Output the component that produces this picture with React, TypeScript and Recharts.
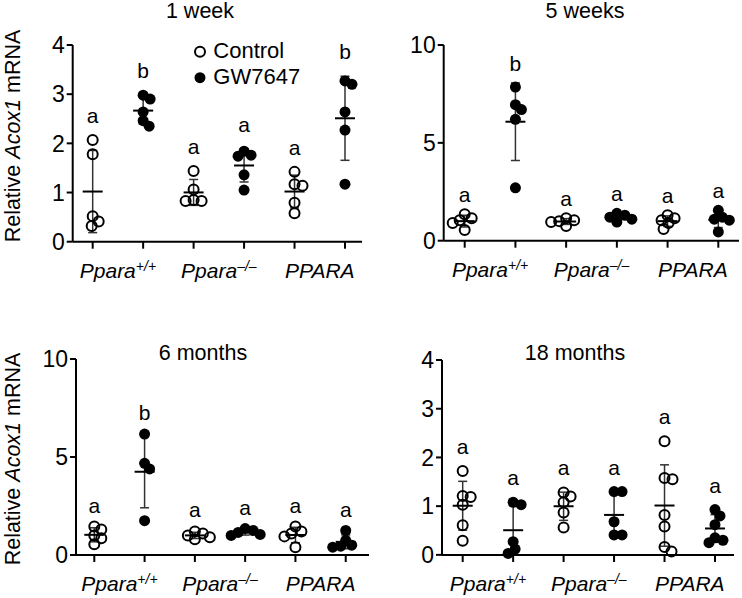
import React from "react";
import { ScatterChart, Scatter, XAxis, YAxis, ErrorBar, Legend } from "recharts";

const FONT = "'Liberation Sans', Arial, Helvetica, sans-serif";

// ---------- data ----------
const genotypeNames = ["Ppara", "Ppara", "PPARA"];
const genotypeSups = ["+/+", "\u2013/\u2013", ""];
const treatments = ["Control", "GW7647"];
const panelTitles = ["1 week", "5 weeks", "6 months", "18 months"];

// group order: Ppara+/+ Control, Ppara+/+ GW7647, Ppara-/- Control, Ppara-/- GW7647, PPARA Control, PPARA GW7647
const week1Values = [
  [2.07, 1.78, 0.52, 0.41, 0.32],
  [2.98, 2.9, 2.64, 2.46, 2.35],
  [1.44, 1.06, 0.85, 0.83, 0.83],
  [1.84, 1.76, 1.74, 1.36, 1.05],
  [1.42, 1.17, 1.14, 0.79, 0.58],
  [3.27, 3.2, 2.64, 2.27, 1.17],
];
const week1Letters = ["a", "b", "a", "a", "a", "b"];
const week1Ticks = [0, 1, 2, 3, 4];

const week5Values = [
  [1.35, 1.15, 1.05, 0.9, 0.55],
  [7.85, 6.95, 6.7, 6.2, 2.7],
  [1.15, 1.05, 1.0, 0.95, 0.75],
  [1.4, 1.3, 1.2, 1.1, 0.95],
  [1.3, 1.15, 1.05, 0.9, 0.6],
  [1.55, 1.2, 1.1, 1.05, 0.45],
];
const week5Letters = ["a", "b", "a", "a", "a", "a"];
const week5Ticks = [0, 5, 10];

const month6Values = [
  [1.45, 1.3, 1.0, 0.85, 0.55],
  [6.17, 4.68, 4.39, 1.75],
  [1.2, 1.1, 1.0, 0.9, 0.8],
  [1.35, 1.25, 1.15, 1.05, 1.0],
  [1.45, 1.2, 1.1, 0.95, 0.4],
  [1.25, 0.75, 0.5, 0.45, 0.4],
];
const month6Letters = ["a", "b", "a", "a", "a", "a"];
const month6Ticks = [0, 5, 10];

const month18Values = [
  [1.72, 1.21, 1.19, 1.03, 0.61, 0.29],
  [1.08, 1.03, 0.27, 0.12, 0.03],
  [1.28, 1.2, 1.08, 0.87, 0.56],
  [1.3, 1.3, 0.68, 0.41, 0.41],
  [2.33, 1.58, 1.55, 0.82, 0.58, 0.16, 0.07],
  [0.93, 0.8, 0.62, 0.35, 0.3, 0.25],
];
const month18Letters = ["a", "a", "a", "a", "a", "a"];
const month18Ticks = [0, 1, 2, 3, 4];

// x ticks: integer = group position (tick mark), .5 = genotype label
const xTickPositions = [1, 1.5, 2, 3, 3.5, 4, 5, 5.5, 6];

// ---------- layout ----------
type Layout = {
  left: number; top: number; width: number; height: number;
  plotLeft: number; plotRight: number; plotTop: number; plotBottom: number;
  xDomain: [number, number]; titleX: number; titleY: number;
  yLabelY?: number; legend?: boolean; letterGap: number;
};

const layouts: Layout[] = [
  { left: 0, top: 0, width: 371, height: 299, plotLeft: 72.7, plotRight: 362, plotTop: 45, plotBottom: 241.7, xDomain: [0.604, 6.337], titleX: 200, titleY: 18.3, yLabelY: 136, legend: true, letterGap: 17 },
  { left: 371, top: 0, width: 371, height: 299, plotLeft: 443.7, plotRight: 739, plotTop: 45, plotBottom: 240.7, xDomain: [0.586, 6.408], titleX: 585, titleY: 18.3, letterGap: 12 },
  { left: 0, top: 299, width: 371, height: 299, plotLeft: 76, plotRight: 369, plotTop: 359, plotBottom: 555, xDomain: [0.636, 6.463], titleX: 203, titleY: 359.7, yLabelY: 459, letterGap: 14 },
  { left: 371, top: 299, width: 371, height: 299, plotLeft: 442, plotRight: 734, plotTop: 360, plotBottom: 555, xDomain: [0.59, 6.377], titleX: 575, titleY: 359.7, letterGap: 17 },
];

const X_AXIS_H = 38;
const Y_AXIS_W = 50;

// simple beeswarm: smallest horizontal shift (px) that avoids heavy overlap
function beeswarm(values: number[], pxPerX: number, pxPerY: number, D: number): number[] {
  const order = values.map((v, i) => ({ v, i })).sort((a, b) => b.v - a.v);
  const placed: { o: number; y: number }[] = [];
  const offsets = new Array(values.length).fill(0);
  for (const { v, i } of order) {
    const y = v * pxPerY;
    let chosen = 0;
    for (let k = 0; k < 80; k++) {
      const o = k === 0 ? 0 : k % 2 === 1 ? Math.ceil(k / 2) : -Math.ceil(k / 2);
      if (placed.every((p) => (p.o - o) ** 2 + (p.y - y) ** 2 >= D * D)) {
        chosen = o;
        break;
      }
    }
    placed.push({ o: chosen, y });
    offsets[i] = chosen / pxPerX;
  }
  return offsets;
}

const OpenDot = (p: any) => (
  <circle cx={p.cx} cy={p.cy} r={5} fill="none" stroke="#000" strokeWidth={2} />
);
const FilledDot = (p: any) => <circle cx={p.cx} cy={p.cy} r={5.5} fill="#000" />;
const MeanLine = (p: any) => (
  <line x1={p.cx - 10} x2={p.cx + 10} y1={p.cy} y2={p.cy} stroke="#000" strokeWidth={2} />
);

function Panel({ title, groups, letters, yTicks, L }: { title: string; groups: number[][]; letters: string[]; yTicks: number[]; L: Layout }) {
  const yMax = yTicks[yTicks.length - 1];
  const plotW = L.plotRight - L.plotLeft;
  const plotH = L.plotBottom - L.plotTop;
  const pxPerX = plotW / (L.xDomain[1] - L.xDomain[0]);
  const pxPerY = plotH / yMax;

  const ctrl: any[] = [];
  const gw: any[] = [];
  const summary: any[] = [];
  const letterPts: any[] = [];
  groups.forEach((vals, gi) => {
    const offs = beeswarm(vals, pxPerX, pxPerY, 7.5);
    const pts = vals.map((v, k) => ({ x: gi + 1 + offs[k], y: v }));
    (gi % 2 === 0 ? ctrl : gw).push(...pts);
    const mean = vals.reduce((a, b) => a + b, 0) / vals.length;
    const sd = Math.sqrt(vals.reduce((a, b) => a + (b - mean) ** 2, 0) / (vals.length - 1));
    summary.push({ x: gi + 1, y: mean, sd });
    letterPts.push({ x: gi + 1, y: Math.max(Math.max(...vals), mean + sd), letter: letters[gi] });
  });

  const margin = {
    top: L.plotTop - L.top,
    right: L.left + L.width - L.plotRight,
    left: L.plotLeft - L.left - Y_AXIS_W,
    bottom: L.top + L.height - L.plotBottom - X_AXIS_H,
  };
  const plotBottomRel = L.plotBottom - L.top;

  const LetterMark = (p: any) => (
    <text x={p.cx} y={p.cy - L.letterGap} textAnchor="middle" fontSize={21} fill="#000" fontFamily={FONT}>
      {p.payload.letter}
    </text>
  );

  const XTick = (p: any) => {
    const v = p.payload.value;
    if (Number.isInteger(v)) {
      return <line x1={p.x} x2={p.x} y1={plotBottomRel} y2={plotBottomRel + 7} stroke="#000" strokeWidth={2} />;
    }
    const gi = Math.round((v - 1.5) / 2);
    return (
      <text x={p.x} y={plotBottomRel + 36} textAnchor="middle" fontSize={21} fontStyle="italic" fill="#000" stroke="none" fontFamily={FONT}>
        {genotypeNames[gi]}
        {genotypeSups[gi] ? (
          <tspan fontSize={14} dy={-7}>{genotypeSups[gi]}</tspan>
        ) : null}
      </text>
    );
  };

  const yLabel = L.yLabelY !== undefined
    ? () => {
        const x = 20 - L.left;
        const y = (L.yLabelY as number) - L.top;
        return (
          <text x={x} y={y} transform={`rotate(-90, ${x}, ${y})`} textAnchor="middle" fontSize={21.5} fill="#000" stroke="none" fontFamily={FONT}>
            {"Relative "}
            <tspan fontStyle="italic">Acox1</tspan>
            {" mRNA"}
          </text>
        );
      }
    : undefined;

  const legendContent = () => (
    <svg width={130} height={60} style={{ display: "block" }}>
      <circle cx={10} cy={13.7} r={5} fill="none" stroke="#000" strokeWidth={2} />
      <text x={23.3} y={19.8} fontSize={22} fill="#000" fontFamily={FONT}>{treatments[0]}</text>
      <circle cx={10} cy={39.7} r={5.5} fill="#000" />
      <text x={23.3} y={46} fontSize={22} fill="#000" fontFamily={FONT}>{treatments[1]}</text>
    </svg>
  );

  return (
    <div style={{ position: "absolute", left: L.left, top: L.top }}>
      <ScatterChart width={L.width} height={L.height} margin={margin} style={{ fontFamily: FONT }}>
        <XAxis
          type="number"
          dataKey="x"
          domain={L.xDomain}
          ticks={xTickPositions}
          interval={0}
          height={X_AXIS_H}
          stroke="#000"
          strokeWidth={2}
          axisLine={true}
          tickLine={false}
          tick={XTick}
        />
        <YAxis
          type="number"
          dataKey="y"
          domain={[0, yMax]}
          ticks={yTicks}
          interval={0}
          width={Y_AXIS_W}
          stroke="#000"
          strokeWidth={2}
          tickSize={6}
          tickMargin={2}
          tick={{ fill: "#000", fontSize: 23, fontFamily: FONT, strokeWidth: 0 }}
          label={yLabel}
        />
        <Scatter name={treatments[0]} data={ctrl} shape={OpenDot} isAnimationActive={false} />
        <Scatter name={treatments[1]} data={gw} shape={FilledDot} isAnimationActive={false} />
        <Scatter name="mean" data={summary} shape={MeanLine} legendType="none" isAnimationActive={false}>
          <ErrorBar dataKey="sd" direction="y" width={4.5} stroke="#333" strokeWidth={1.5} isAnimationActive={false} />
        </Scatter>
        <Scatter name="letters" data={letterPts} shape={LetterMark} legendType="none" isAnimationActive={false} />
        {L.legend ? (
          <Legend
            layout="vertical"
            align="center"
            verticalAlign="middle"
            content={legendContent}
            wrapperStyle={{ left: 190 - L.left, top: 38 - L.top, width: 130, height: 60 }}
          />
        ) : null}
        <text x={L.titleX - L.left} y={L.titleY - L.top} textAnchor="middle" fontSize={21.5} fill="#000" fontFamily={FONT}>
          {title}
        </text>
      </ScatterChart>
    </div>
  );
}

export default function App() {
  return (
    <div style={{ position: "absolute", left: 0, top: 0, width: 742, height: 598, background: "#fff", fontFamily: FONT }}>
      <Panel title={panelTitles[0]} groups={week1Values} letters={week1Letters} yTicks={week1Ticks} L={layouts[0]} />
      <Panel title={panelTitles[1]} groups={week5Values} letters={week5Letters} yTicks={week5Ticks} L={layouts[1]} />
      <Panel title={panelTitles[2]} groups={month6Values} letters={month6Letters} yTicks={month6Ticks} L={layouts[2]} />
      <Panel title={panelTitles[3]} groups={month18Values} letters={month18Letters} yTicks={month18Ticks} L={layouts[3]} />
    </div>
  );
}
